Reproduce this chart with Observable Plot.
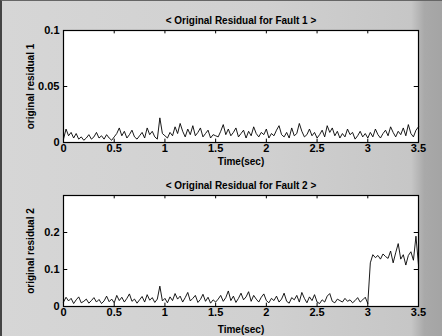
<!DOCTYPE html>
<html><head><meta charset="utf-8">
<script src="https://cdn.jsdelivr.net/npm/d3@7"></script>
<script src="https://cdn.jsdelivr.net/npm/@observablehq/plot@0.6"></script>
<style>
html,body{margin:0;padding:0;background:#cfcfcf;}
#fig{position:relative;width:442px;height:336px;overflow:hidden;box-sizing:border-box;
 background:linear-gradient(to right,#d6d6d6 0%,#d0d0d0 60%,#c6c6c6 93%,#a9a9a9 96%,#a4a4a4 100%);
 border-left:2px solid #444;border-top:1px solid #666;}
#fig > div{position:absolute;left:-2px;}
svg text{font-family:"Liberation Sans",Arial,sans-serif;}
</style></head><body>
<div id="fig"><div id="p1" style="top:-1px"></div><div id="p2" style="top:167px"></div></div>
<script>
// time axis: 0 .. 3.5 s, step 0.025 s (141 samples)
const step = 0.025;
const xTicks = [0, 0.5, 1, 1.5, 2, 2.5, 3, 3.5];
const yTicks1 = [0, 0.05, 0.1];
const yTicks2 = [0, 0.1, 0.2];
const titles = ["< Original Residual for Fault 1 >", "< Original Residual for Fault 2 >"];
const yLabels = ["original residual 1", "original residual 2"];
const xLabel = "Time(sec)";

// values, in units of 0.001
const residual1 = [
 3,12,6,9,4,8,3,5,2,4,7,3,5,9,4,6,3,7,4,2,5,
 8,13,6,10,4,7,11,5,3,6,9,4,13,7,10,5,3,22,8,6,
 4,9,6,14,8,17,10,5,12,7,15,6,9,13,5,8,11,4,7,6,
 5,10,16,7,12,6,9,13,5,8,11,4,10,6,14,8,5,9,7,12,
 4,8,6,11,15,7,5,9,4,13,6,8,17,10,5,7,12,6,9,4,
 7,11,5,15,9,13,6,10,4,8,5,12,7,9,3,6,10,5,8,4,
 9,5,12,7,4,8,11,6,14,9,5,10,7,13,6,16,8,5,11,14
];
const residual2 = [
 12,25,15,22,8,18,26,10,14,20,9,16,24,12,19,8,15,28,13,20,10,
 30,16,25,12,22,34,14,20,9,18,27,12,32,17,24,11,20,55,15,22,
 10,26,16,35,20,28,12,24,38,15,22,30,11,19,33,14,25,9,18,12,
 20,30,14,24,42,16,28,11,22,36,18,26,40,14,30,20,12,25,34,16,
 10,22,16,28,12,20,36,14,9,24,18,30,12,38,22,10,26,16,32,12,
 8,18,12,28,35,14,10,20,16,12,22,14,18,10,16,24,12,18,25,8,
 118,140,132,138,128,142,135,130,150,118,145,170,128,140,112,138,148,125,190,112
];

const fmt = d => String(d);

function panel(values, yTicks, yMax, title, ylabel, height, mt, mb, labelDy, titleDy) {
  const data = values.map((v, i) => ({t: i * step, v: v * 0.001}));
  const tx = 3.5 * 0.012, ty = yMax * 0.03;
  return Plot.plot({
    width: 442, height, marginLeft: 63, marginRight: 24, marginTop: mt, marginBottom: mb,
    style: {background: "transparent", fontFamily: "Liberation Sans, Arial, sans-serif", fontSize: "10px", color: "black", overflow: "visible"},
    x: {domain: [0, 3.5]},
    y: {domain: [0, yMax]},
    marks: [
      Plot.frame({fill: "white", stroke: null}),
      Plot.lineY(data, {x: "t", y: "v", stroke: "black", strokeWidth: 0.9}),
      Plot.ruleX(xTicks, {x: d => d, y1: 0, y2: ty, stroke: "black"}),
      Plot.ruleX(xTicks, {x: d => d, y1: yMax, y2: yMax - ty, stroke: "black"}),
      Plot.ruleY(yTicks, {y: d => d, x1: 0, x2: tx, stroke: "black"}),
      Plot.ruleY(yTicks, {y: d => d, x1: 3.5, x2: 3.5 - tx, stroke: "black"}),
      Plot.frame({stroke: "black", strokeWidth: 1.2}),
      Plot.axisX({ticks: xTicks, tickFormat: fmt, tickSize: 0, tickPadding: 2, label: null, fontWeight: "bold", fontSize: 11}),
      Plot.axisY({ticks: yTicks, tickFormat: fmt, tickSize: 0, tickPadding: 4, label: null, fontWeight: "bold", fontSize: 11}),
      Plot.text([xLabel], {frameAnchor: "bottom", dy: labelDy, fontWeight: "bold", fontSize: 10}),
      Plot.text([ylabel], {x: 0, y: yMax / 2, dx: -33, rotate: -90, fontWeight: "bold", fontSize: 10}),
      Plot.text([title], {frameAnchor: "top", dy: titleDy, fontWeight: "bold", fontSize: 10})
    ]
  });
}

document.getElementById("p1").append(panel(residual1, yTicks1, 0.1, titles[0], yLabels[0], 168, 30, 26, 22, -14));
document.getElementById("p2").append(panel(residual2, yTicks2, 0.3, titles[1], yLabels[1], 168, 27, 30, 26, -14));
</script></body></html>
